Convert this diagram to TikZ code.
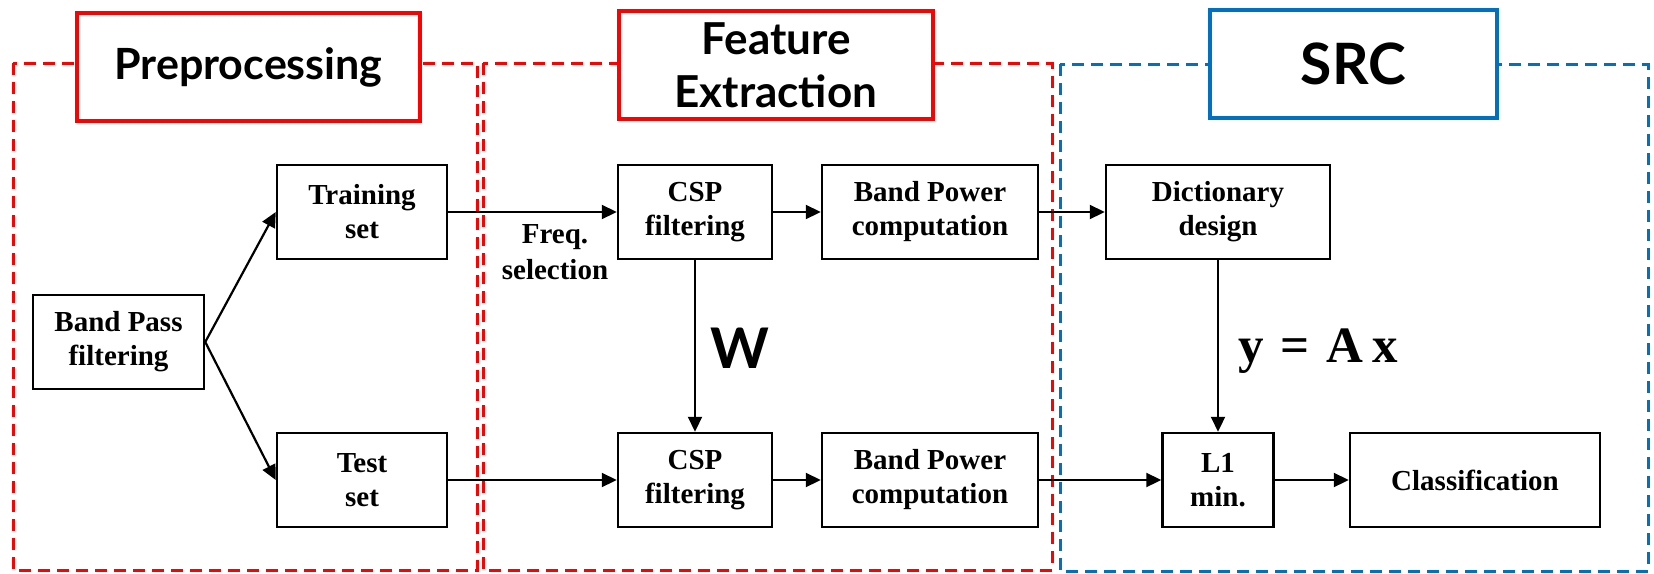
\documentclass[tikz,border=0pt]{standalone}
\usepackage{fontspec}
\setmainfont{Liberation Serif}
\newfontfamily\headfont{Lato}
\usetikzlibrary{arrows.meta}

\definecolor{stagered}{RGB}{255,0,0}
\definecolor{stageblue}{RGB}{0,112,192}

\begin{document}
\begin{tikzpicture}[x=1pt,y=-1pt,
  frame/.style={line width=3pt, dash pattern=on 12pt off 7pt},
  headbox/.style={draw, fill=white, line width=3.6pt, minimum height=108pt,
    align=center, inner sep=0pt, font=\headfont\bfseries\fontsize{44}{53}\selectfont},
  blk/.style={draw, line width=2.5pt, minimum height=94pt, align=center,
    inner sep=0pt, font=\bfseries\fontsize{29}{34}\selectfont},
  conn/.style={line width=2.2pt, -{Triangle[length=15pt,width=14pt]}},
  lbl/.style={inner sep=0pt, align=center}]
\useasboundingbox (0,0) rectangle (1654,573);

% stage frames
\draw[frame, stagered] (13,63) rectangle (477,570);
\draw[frame, stagered] (483,63) rectangle (1052,570);
\draw[frame, stageblue] (1060,64) rectangle (1648,571);

% stage headings
\node[headbox, draw=stagered, minimum width=343pt,
  font=\headfont\bfseries\fontsize{43}{52}\selectfont] (hpre) at (248.5,67) {Preprocessing};
\node[headbox, draw=stagered, minimum width=314pt] (hfe) at (776,65) {Feature\\Extraction};
\node[headbox, draw=stageblue, minimum width=287pt,
  font=\headfont\bfseries\fontsize{57}{60}\selectfont] (hsrc) at (1353.5,64) {SRC};

% processing blocks
\node[blk, minimum width=171pt] (bp) at (118.5,342) {Band Pass\\filtering};
\node[blk, minimum width=170pt] (train) at (362,212) {Training\\set};
\node[blk, minimum width=170pt] (test) at (362,480) {Test\\set};
\node[blk, minimum width=154pt] (csp1) at (695,212) {CSP\\filtering};
\node[blk, minimum width=216pt] (pow1) at (930,212) {Band Power\\computation};
\node[blk, minimum width=154pt] (csp2) at (695,480) {CSP\\filtering};
\node[blk, minimum width=216pt] (pow2) at (930,480) {Band Power\\computation};
\node[blk, minimum width=224pt] (dict) at (1218,212) {Dictionary\\design};
\node[blk, minimum width=111pt] (l1) at (1218,480) {L1\\min.};
\node[blk, minimum width=250pt] (cls) at (1475,480) {Classification};

% connectors
\draw[conn] (bp.east) -- (train.west);
\draw[conn] (bp.east) -- (test.west);
\draw[conn] (train.east) -- (csp1.west);
\draw[conn] (csp1.east) -- (pow1.west);
\draw[conn] (pow1.east) -- (dict.west);
\draw[conn] (csp1.south) -- (csp2.north);
\draw[conn] (test.east) -- (csp2.west);
\draw[conn] (csp2.east) -- (pow2.west);
\draw[conn] (pow2.east) -- (l1.west);
\draw[conn] (dict.south) -- (l1.north);
\draw[conn] (l1.east) -- (cls.west);

% labels
\node[lbl, font=\bfseries\fontsize{29}{36}\selectfont] (freq) at (555,252) {Freq.\\selection};
\node[lbl, anchor=base, font=\headfont\bfseries\fontsize{56}{56}\selectfont] (wlbl) at (740,368) {W};
\node[lbl, anchor=base, font=\bfseries\fontsize{51}{51}\selectfont] (eq) at (1318,362) {y\,\,=\,\,A\,x};
\end{tikzpicture}
\end{document}
